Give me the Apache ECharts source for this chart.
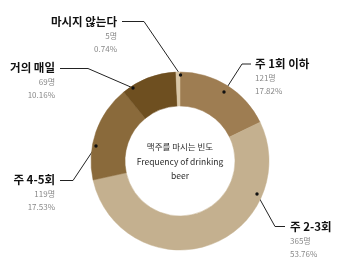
<!DOCTYPE html>
<html><head><meta charset="utf-8">
<script src="https://cdn.jsdelivr.net/npm/echarts@6/dist/echarts.min.js"></script>
<style>html,body{margin:0;padding:0;background:#fff}#c{width:346px;height:278px}</style>
</head><body><div id="c"></div>
<script>
const categories = ['주 1회 이하', '주 2-3회', '주 4-5회', '거의 매일', '마시지 않는다'];
const counts = [121, 365, 119, 69, 5];
const percents = ['17.82%', '53.76%', '17.53%', '10.16%', '0.74%'];
const centerTitle = ['맥주를 마시는 빈도', 'Frequency of drinking', 'beer'];

const sliceColors = ['#9e7d52', '#c4b08f', '#8a6a3b', '#6e4f20', '#d9c7a7'];
const FONT = '"Noto Sans CJK KR", "Noto Sans", sans-serif';

// label block positions and leader-line routes (layout only)
const labelLayoutCfg = [
  { x: 255, y: 56, align: 'left',  pts: [[224, 92], [242, 64], [251, 64]] },
  { x: 290, y: 219, align: 'left', pts: [[257, 194], [275, 226.5], [285, 226.5]] },
  { x: 55, y: 172, align: 'right', pts: [[96, 146], [73, 180.5], [60, 180.5]] },
  { x: 55, y: 60, align: 'right',  pts: [[133, 88], [88, 68.5], [60, 68.5]] },
  { x: 117, y: 14, align: 'right', pts: [[180.5, 75], [144, 21.5], [122, 21.5]] }
];

const chart = echarts.init(document.getElementById('c'), null, { renderer: 'canvas' });
const data = categories.map((name, i) => ({
  name, value: counts[i], pct: percents[i],
  itemStyle: { color: sliceColors[i], borderColor: sliceColors[i], borderWidth: 0.5 }
}));

chart.setOption({
  animation: false,
  textStyle: { fontFamily: FONT },
  graphic: [
    ...labelLayoutCfg.map(c => ({
      type: 'circle', z: 100,
      shape: { cx: c.pts[0][0], cy: c.pts[0][1], r: 1.7 },
      style: { fill: '#111' }
    })),
    ...centerTitle.map((t, i) => ({
      type: 'text', z: 100,
      x: 180, y: [147, 162, 176][i],
      style: { text: t, fontSize: 8.5, fill: '#2a2a2a', fontFamily: FONT, align: 'center', verticalAlign: 'middle' }
    }))
  ],
  series: [{
    type: 'pie',
    center: [180, 161],
    radius: [55, 89],
    startAngle: 90,
    clockwise: true,
    avoidLabelOverlap: false,
    emphasis: { disabled: true },
    data,
    label: {
      show: true,
      position: 'outside',
      fontFamily: FONT,
      formatter: p => '{n|' + p.name + '}\n{v|' + p.value + '명}\n{v|' + p.data.pct + '}',
      rich: {
        n: { fontSize: 11.5, fontWeight: 'bold', color: '#111', lineHeight: 16, fontFamily: FONT },
        v: { fontSize: 8, color: '#888', lineHeight: 12.5, fontFamily: FONT }
      }
    },
    labelLine: { show: true, lineStyle: { color: '#222', width: 1 } },
    labelLayout: function (params) {
      const c = labelLayoutCfg[params.dataIndex];
      return { x: c.x, y: c.y, align: c.align, verticalAlign: 'top', labelLinePoints: c.pts };
    }
  }]
});
</script>
</body></html>
